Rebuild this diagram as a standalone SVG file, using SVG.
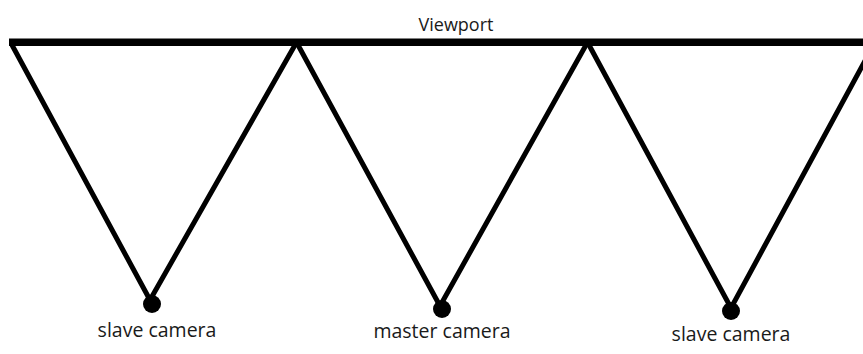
<svg xmlns="http://www.w3.org/2000/svg" width="863" height="354" viewBox="0 0 863 354">
<style>
.t{font-family:"Open Sans","Noto Sans",sans-serif;fill:#1a1a1a;text-anchor:middle}
.lab{font-size:19.5px}
.vp{font-size:18px}
.l{stroke:#000;stroke-width:5;fill:none;stroke-linecap:butt}
.bar{fill:#000}
.dot{fill:#000}
</style>
<rect width="863" height="354" fill="#fff"/>
<g id="viewport">
<rect class="bar" x="9" y="38.5" width="854" height="7.5"/>
<text class="t vp" x="456" y="31">Viewport</text>
</g>
<g id="connectors">
<path class="l" d="M12,45 L150,300 L295,45"/>
<path class="l" d="M298,45 L440,306 L586,45"/>
<path class="l" d="M589,45 L731,308 L873,46"/>
</g>
<g id="cam-left">
<circle class="dot" cx="152" cy="304" r="9"/>
<text class="t lab" x="157" y="337">slave camera</text>
</g>
<g id="cam-master">
<circle class="dot" cx="442" cy="309" r="9"/>
<text class="t lab" x="442" y="338">master camera</text>
</g>
<g id="cam-right">
<circle class="dot" cx="731" cy="311" r="9"/>
<text class="t lab" x="731" y="341">slave camera</text>
</g>
</svg>
